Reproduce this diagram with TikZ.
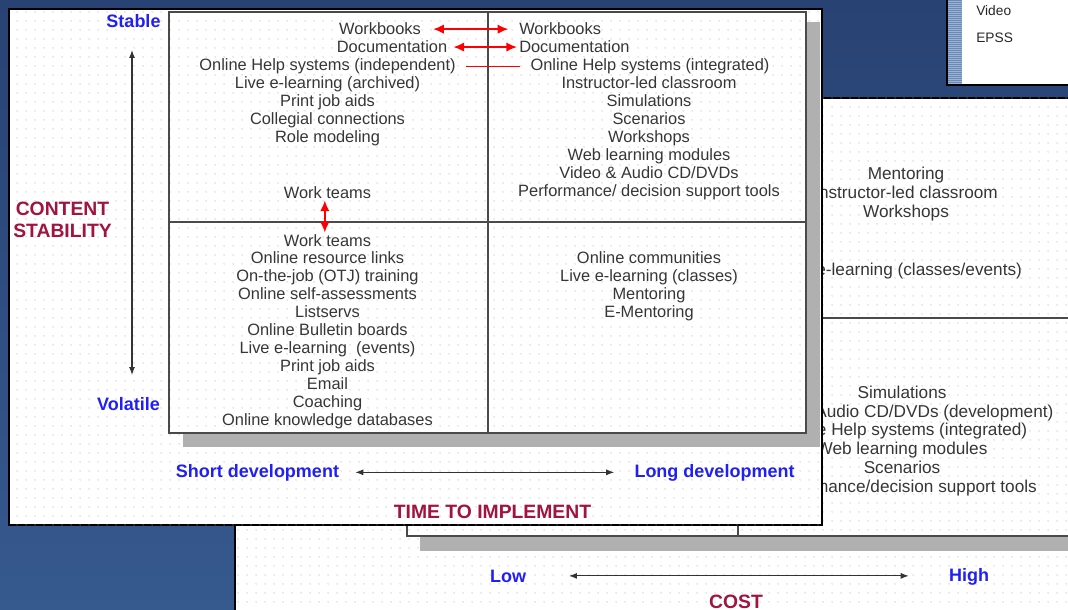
\documentclass[tikz,border=0pt]{standalone}
\usepackage{fontspec}
\setmainfont{Liberation Sans}
\usetikzlibrary{arrows.meta,patterns.meta}

\definecolor{navyTop}{HTML}{284273}
\definecolor{navyLow}{HTML}{36598E}
\definecolor{itemgray}{HTML}{363636}
\definecolor{lblblue}{HTML}{2020F6}
\definecolor{axisred}{HTML}{A0143F}
\definecolor{gridgray}{HTML}{4A4A4A}
\definecolor{shadowgray}{HTML}{B0B0B0}
\definecolor{dotgray}{HTML}{A8A8A8}
\definecolor{stripeA}{HTML}{6A89B6}
\definecolor{stripeB}{HTML}{9CB2D2}

\tikzset{
  item/.style={font=\fontsize{12.3}{14}\selectfont, text=itemgray, inner sep=0pt, anchor=base},
  backitem/.style={font=\fontsize{12.9}{15}\selectfont, text=itemgray, inner sep=0pt, anchor=base},
  smallitem/.style={font=\fontsize{10.3}{12}\selectfont, text=black!85, inner sep=0pt, anchor=base west},
  endlabel/.style={font=\fontsize{13.5}{16}\selectfont\bfseries, text=lblblue, inner sep=0pt, anchor=base},
  axislabel/.style={font=\fontsize{14.5}{17}\selectfont\bfseries, text=axisred, inner sep=0pt, anchor=base},
  panel/.style={draw=black, line width=1.4pt, fill=white,
    postaction={pattern={Dots[radius=0.45pt,distance=6.4pt]}, pattern color=dotgray}},
  gridline/.style={draw=gridgray, line width=1pt},
  shadowbar/.style={fill=shadowgray, draw=none},
  redarrow/.style={draw=red, line width=1.3pt, {Latex[length=8pt,width=7pt]}-{Latex[length=8pt,width=7pt]}},
  redline/.style={draw=red, line width=1.3pt},
  axisarrow/.style={draw=black!80, line width=0.8pt, {Latex[length=6pt,width=4.5pt]}-{Latex[length=6pt,width=4.5pt]}},
}

\begin{document}
\begin{tikzpicture}[x=0.75pt,y=0.75pt,yscale=-1]
\useasboundingbox (0,0) rectangle (1068,610);

%Background
\shade[top color=navyTop, bottom color=navyLow] (0,0) rectangle (1068,610);

%Shape: back panel (cost)
\path[panel] (235,98) rectangle (1080,625);
\fill[shadowbar] (420,537) rectangle (1080,551);
\draw[gridline] (407,300) -- (407,536) -- (1080,536);
\draw[gridline] (738,300) -- (738,536);
\draw[gridline] (407,318) -- (1080,318);

% Text Node
\node[backitem] (bMentor) at (906,179) {Mentoring};
\node[backitem] (bInstr) at (906,198) {Instructor-led classroom};
\node[backitem] (bWorkshop) at (906,217) {Workshops};
\node[backitem] (bLive) at (901,275) {Live e-learning (classes/events)};
% Text Node
\node[backitem] (bSim) at (902,398) {Simulations};
\node[backitem] (bVideo) at (902,417) {Video \& Audio CD/DVDs (development)};
\node[backitem] (bHelp) at (902,435) {Online Help systems (integrated)};
\node[backitem] (bWeb) at (902,454) {Web learning modules};
\node[backitem] (bScen) at (902,473) {Scenarios};
\node[backitem] (bPerf) at (902,492) {Performance/decision support tools};

% Text Node
\node[endlabel] (lowLbl) at (508,582) {Low};
\node[endlabel] (highLbl) at (969,581) {High};
\node[axislabel] (costLbl) at (736,608) {COST};
\draw[axisarrow, shorten <=32pt, shorten >=30pt] (lowLbl.east) -- (lowLbl.east -| highLbl.west);

%Shape: small panel top right
\path[fill=white, draw=black, line width=1.4pt] (947,-5) rectangle (1080,85);
\foreach \k in {0,2,...,82}
  \fill[stripeA] (948,\k) rectangle (962,\k+1.2);
\foreach \k in {1,3,...,83}
  \fill[stripeB] (948,\k) rectangle (962,\k+1);
\node[smallitem] (vidItem) at (976,16) {Video};
\node[smallitem] (epssItem) at (976,43) {EPSS};

%Shape: front panel (time to implement)
\path[panel] (9,9) rectangle (822,525);
\fill[shadowbar] (183,433) rectangle (820,447);
\fill[shadowbar] (806,22) rectangle (820,447);
\draw[gridline] (169,12) rectangle (806,433);
\draw[gridline] (488,12) -- (488,433);
\draw[gridline] (169,222) -- (806,222);

% Text Node
\node[item] (wbL) at (380,35) {Workbooks};
\node[item] (docL) at (392,52.9) {Documentation};
\node[item] (helpL) at (327.5,70.8) {Online Help systems (independent)};
\node[item] (liveArch) at (327.5,88.7) {Live e-learning (archived)};
\node[item] (printTop) at (327.5,106.6) {Print job aids};
\node[item] (collegial) at (327.5,124.5) {Collegial connections};
\node[item] (roleMod) at (327.5,142.4) {Role modeling};
\node[item] (wtTop) at (327.5,198) {Work teams};

% Text Node
\node[item, anchor=base west] (wbR) at (519,35) {Workbooks};
\node[item, anchor=base west] (docR) at (519,52.9) {Documentation};
\node[item] (helpR) at (650,70.8) {Online Help systems (integrated)};
\node[item] (instrR) at (649,88.7) {Instructor-led classroom};
\node[item] (simR) at (649,106.6) {Simulations};
\node[item] (scenR) at (649,124.5) {Scenarios};
\node[item] (workshopR) at (649,142.4) {Workshops};
\node[item] (webR) at (649,160.3) {Web learning modules};
\node[item] (videoR) at (649,178.2) {Video \& Audio CD/DVDs};
\node[item] (perfR) at (649,196.6) {Performance/ decision support tools};

% Text Node
\node[item] (wtBot) at (327.5,246) {Work teams};
\node[item] (resLinks) at (327.5,263.9) {Online resource links};
\node[item] (otj) at (327.5,281.8) {On-the-job (OTJ) training};
\node[item] (selfAss) at (327.5,299.7) {Online self-assessments};
\node[item] (listserv) at (327.5,317.6) {Listservs};
\node[item] (bulletin) at (327.5,335.5) {Online Bulletin boards};
\node[item] (liveEv) at (327.5,353.4) {Live e-learning\ \ (events)};
\node[item] (printBot) at (327.5,371.3) {Print job aids};
\node[item] (email) at (327.5,389.2) {Email};
\node[item] (coach) at (327.5,407.1) {Coaching};
\node[item] (knowDb) at (327.5,425) {Online knowledge databases};

% Text Node
\node[item] (commun) at (649,263.9) {Online communities};
\node[item] (liveCls) at (649,281.8) {Live e-learning (classes)};
\node[item] (mentorR) at (649,299.7) {Mentoring};
\node[item] (eMentor) at (649,317.6) {E-Mentoring};

%Red links between quadrants
\draw[redarrow, shorten <=9pt, shorten >=8pt] (wbL.east) -- (wbR.west);
\draw[redarrow, shorten <=4.5pt, shorten >=1.5pt] (docL.east) -- (docR.west);
\draw[redline, shorten <=7.5pt, shorten >=8pt] (helpL.east) -- (helpR.west);
\draw[redarrow, shorten <=1.5pt, shorten >=1pt] ([xshift=-2pt]wtTop.south) -- ([xshift=-2pt]wtBot.north);

% Text Node
\node[endlabel] (stableLbl) at (133.5,28) {Stable};
\node[endlabel] (volatileLbl) at (128.5,410) {Volatile};
\node[axislabel] (contentLbl) at (62.5,215) {CONTENT};
\node[axislabel] (stabilityLbl) at (62.5,237) {STABILITY};
\coordinate (axTop) at (132,50);
\coordinate (axBot) at (132,375);
\draw[axisarrow] (axTop) -- (axBot);

% Text Node
\node[endlabel] (shortDev) at (257.5,477) {Short development};
\node[endlabel] (longDev) at (714.5,477) {Long development};
\node[axislabel] (timeLbl) at (492.5,518) {TIME TO IMPLEMENT};
\draw[axisarrow, shorten <=12pt, shorten >=15pt] (shortDev.east) -- (shortDev.east -| longDev.west);

\end{tikzpicture}
\end{document}
